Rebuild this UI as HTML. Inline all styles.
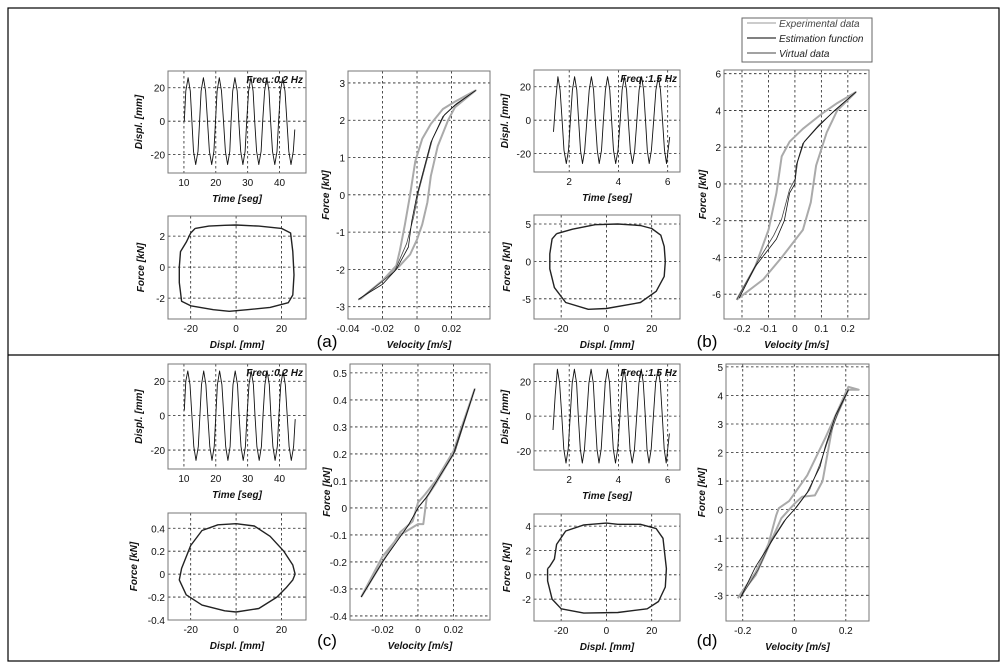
<!DOCTYPE html>
<html><head><meta charset="utf-8"><style>
body{margin:0;background:#fff}
svg{display:block;font-family:"Liberation Sans",sans-serif}
.tk{font-size:10px;fill:#111}
.ti{font-size:10px;font-style:italic;font-weight:bold;fill:#111}
</style></head><body>
<svg id="fig" width="1008" height="671" viewBox="0 0 1008 671">
<rect x="8" y="8" width="991" height="653" fill="none" stroke="#000" stroke-width="1.2"/>
<line x1="8" y1="355" x2="999" y2="355" stroke="#000" stroke-width="1.2"/>
<text x="327" y="347" font-size="17" text-anchor="middle">(a)</text>
<text x="707" y="347" font-size="17" text-anchor="middle">(b)</text>
<text x="327" y="646" font-size="17" text-anchor="middle">(c)</text>
<text x="707" y="646" font-size="17" text-anchor="middle">(d)</text>
<g>
<rect x="742" y="18" width="130" height="44" fill="#fff" stroke="#666"/>
<line x1="747" y1="23" x2="776" y2="23" stroke="#bbb" stroke-width="1.5"/>
<text x="779" y="27" font-size="10" font-style="italic" fill="#444">Experimental data</text>
<line x1="747" y1="38" x2="776" y2="38" stroke="#000"/>
<text x="779" y="42" font-size="10" font-style="italic" fill="#222">Estimation function</text>
<line x1="747" y1="53" x2="776" y2="53" stroke="#444"/>
<text x="779" y="57" font-size="10" font-style="italic" fill="#222">Virtual data</text>
</g>
</svg>
<script>
// ---- time series data (vertices: time, displacement) ----
const aTime=[10.1,10.6,11.3,12.0,12.5,13.0,13.7,14.4,14.9,15.4,16.1,16.8,17.4,18.0,18.7,19.4,19.9,20.4,21.1,21.8,22.4,23.0,23.7,24.4,24.8,25.3,26.0,26.7,27.2,27.8,28.5,29.2,29.7,30.3,31.0,31.7,32.2,32.8,33.5,34.2,34.7,35.3,36.0,36.7,37.2,37.8,38.5,39.2,39.7,40.3,41.0,41.7,42.3,42.9,43.6,44.3,44.8];
const aDisp=[0,18,26,18,0,-18,-26,-18,0,18,26,18,0,-18,-26,-18,0,18,26,18,0,-18,-26,-18,0,18,26,18,0,-18,-26,-18,0,18,26,18,0,-18,-26,-18,0,18,26,18,0,-18,-26,-18,0,18,26,18,0,-18,-26,-18,-5];
const bTime=[1.36,1.45,1.54,1.63,1.71,1.79,1.88,1.97,2.05,2.13,2.22,2.31,2.38,2.46,2.54,2.63,2.72,2.81,2.90,2.99,3.06,3.14,3.22,3.31,3.39,3.47,3.56,3.65,3.72,3.80,3.89,3.98,4.07,4.15,4.24,4.33,4.40,4.48,4.57,4.66,4.75,4.84,4.94,5.02,5.10,5.17,5.25,5.34,5.43,5.52,5.62,5.71,5.79,5.87,5.95,6.08];
const bDisp=[-7,12,26,18,0,-18,-26,-18,0,18,26,18,0,-18,-26,-18,0,18,26,18,0,-18,-26,-18,0,18,26,18,0,-18,-26,-18,0,18,26,18,0,-18,-26,-18,0,18,26,18,0,-18,-26,-18,0,18,26,18,0,-18,-26,-10];
const cTime=[10.1,10.6,11.2,11.9,12.5,13.1,13.8,14.5,15.0,15.5,16.2,16.9,17.5,18.1,18.8,19.5,20.0,20.5,21.2,21.9,22.5,23.1,23.8,24.5,24.9,25.4,26.1,26.8,27.3,27.9,28.6,29.3,29.8,30.4,31.1,31.8,32.3,32.9,33.6,34.3,34.8,35.4,36.1,36.8,37.3,37.9,38.6,39.3,39.8,40.4,41.1,41.8,42.4,43.0,43.7,44.4,44.9];
const cDisp=[3,20,26,18,0,-18,-26,-18,0,18,26,18,0,-18,-26,-18,0,18,26,18,0,-18,-26,-18,0,18,26,18,0,-18,-26,-18,0,18,26,18,0,-18,-26,-18,0,18,26,18,0,-18,-26,-18,0,18,26,18,0,-18,-26,-18,-2];
const dTime=[1.34,1.43,1.52,1.61,1.70,1.78,1.87,1.96,2.04,2.12,2.21,2.30,2.37,2.45,2.53,2.62,2.71,2.80,2.89,2.98,3.05,3.13,3.21,3.30,3.38,3.46,3.55,3.64,3.71,3.79,3.88,3.97,4.06,4.14,4.23,4.32,4.39,4.47,4.56,4.65,4.74,4.83,4.93,5.01,5.09,5.16,5.24,5.33,5.42,5.51,5.61,5.70,5.78,5.86,5.94,6.07];
const dDisp=[-8,12,27,19,0,-19,-27,-19,0,19,27,19,0,-19,-27,-19,0,19,27,19,0,-19,-27,-19,0,19,27,19,0,-19,-27,-19,0,19,27,19,0,-19,-27,-19,0,19,27,19,0,-19,-27,-19,0,19,27,19,0,-19,-27,-10];
// ---- loop data (displacement vs force) ----
const aLoopX=[-18,-12,-5,0,10,20,24,25,25.5,25,23,15,5,-3,-10,-20,-24,-25,-25,-24.5,-22,-20,-18];
const aLoopY=[2.5,2.65,2.7,2.72,2.65,2.5,2.2,1,-0.5,-1.8,-2.3,-2.6,-2.75,-2.85,-2.75,-2.5,-2.2,-1,0,1,1.6,2.2,2.5];
const bLoopX=[-22,-15,-5,5,15,20,24,25.5,26,25.5,22,15,0,-8,-18,-23,-25,-25,-24,-22];
const bLoopY=[3.7,4.3,4.9,5,4.8,4.4,3.5,2,0,-2,-4,-5.5,-6.3,-6.4,-5.5,-3.5,-1,1,3,3.7];
const cLoopX=[0,8,15,21,25,26,25,22,18,10,0,-5,-15,-22,-25,-24,-20,-15,-8,0];
const cLoopY=[0.44,0.42,0.33,0.2,0.08,0,-0.05,-0.12,-0.2,-0.3,-0.33,-0.32,-0.27,-0.18,-0.05,0.05,0.25,0.38,0.43,0.44];
const dLoopX=[-26,-25,-23,-22,-18,-10,0,5,15,22,25,26.5,26,23,18,5,-10,-20,-24,-26,-26];
const dLoopY=[0.5,0.7,1.3,2.5,3.6,4.1,4.25,4.15,4.15,3.8,3,0.5,-1,-2.2,-2.8,-3.1,-3.15,-2.8,-2,-0.5,0.5];
// ---- velocity vs force ----
const aExpV=[-0.033,-0.02,-0.012,-0.01,-0.007,-0.004,-0.001,0.003,0.008,0.015,0.022,0.034,0.022,0.018,0.012,0.008,0.006,0.003,0,-0.004,-0.01,-0.02,-0.033];
const aExpF=[-2.8,-2.3,-1.9,-1.5,-0.8,0,0.9,1.5,1.9,2.3,2.5,2.8,2.35,2,1.3,0.5,-0.2,-0.8,-1.2,-1.6,-1.9,-2.3,-2.8];
const aEstV=[-0.034,-0.02,-0.012,-0.005,-0.003,0,0.004,0.008,0.015,0.022,0.034];
const aEstF=[-2.8,-2.4,-2.0,-1.4,-0.7,0,0.7,1.4,2.1,2.4,2.8];
const aVirV=[-0.034,-0.021,-0.013,-0.006,-0.002,0.001,0.005,0.009,0.016,0.023,0.034];
const aVirF=[-2.82,-2.35,-2.05,-1.3,-0.6,0.1,0.8,1.5,2.15,2.45,2.8];
const bExpV=[-0.22,-0.15,-0.1,-0.07,-0.05,-0.02,0.03,0.1,0.16,0.23,0.16,0.12,0.08,0.06,0.03,-0.05,-0.12,-0.22];
const bExpF=[-6.3,-4.5,-2.5,-0.5,1.5,2.3,3,3.8,4.4,5,4,2.8,1,-1,-2.5,-4,-5.2,-6.3];
const bEstV=[-0.21,-0.15,-0.07,-0.04,-0.02,0,0.005,0.03,0.08,0.15,0.23];
const bEstF=[-6.2,-4.5,-3,-2,-0.5,0,1,2.2,3,4,5];
const bVirV=[-0.22,-0.14,-0.08,-0.05,-0.02,0.002,0.01,0.035,0.09,0.16,0.23];
const bVirF=[-6.3,-4.2,-2.8,-1.9,-0.3,0.3,1.2,2.3,3.2,4.1,5];
const cExpV=[-0.032,-0.02,-0.01,-0.003,0,0.004,0.01,0.02,0.032,0.02,0.01,0.005,0.003,0,-0.01,-0.02,-0.032];
const cExpF=[-0.33,-0.2,-0.09,-0.05,0.02,0.05,0.1,0.21,0.44,0.2,0.09,0.04,-0.06,-0.06,-0.1,-0.18,-0.33];
const cEstV=[-0.032,-0.02,-0.005,0,0.005,0.02,0.032];
const cEstF=[-0.33,-0.2,-0.06,0,0.04,0.2,0.44];
const cVirV=[-0.032,-0.019,-0.006,0.001,0.006,0.021,0.032];
const cVirF=[-0.33,-0.19,-0.07,0.01,0.05,0.21,0.44];
const dExpV=[-0.22,-0.15,-0.1,-0.07,-0.06,-0.02,0.05,0.12,0.18,0.21,0.25,0.21,0.15,0.11,0.08,0.03,0,-0.05,-0.1,-0.15,-0.22];
const dExpF=[-3.1,-2.2,-1.2,-0.2,0.05,0.3,1.2,2.5,3.7,4.3,4.2,4.2,3,1,0.5,0.45,0.2,-0.3,-1.3,-2.3,-3.1];
const dEstV=[-0.21,-0.15,-0.08,-0.03,0,0.05,0.1,0.12,0.16,0.21];
const dEstF=[-3.1,-2,-1,-0.3,0,0.6,1.5,2.2,3.3,4.2];
const dVirV=[-0.21,-0.14,-0.09,-0.04,0.01,0.06,0.1,0.13,0.17,0.21];
const dVirF=[-3.1,-2.1,-1.1,-0.4,0.1,0.7,1.6,2.4,3.4,4.2];
// ---- tick labels ----
const dispTicks=[-20,0,20];
const timeTicksA=[10,20,30,40];
const timeTicksB=[2,4,6];
const aLoopYT=[-2,0,2], bLoopYT=[-5,0,5], cLoopYT=[-0.4,-0.2,0,0.2,0.4], dLoopYT=[-2,0,2,4];
const loopXT=[-20,0,20];
const aVelXT=[-0.04,-0.02,0,0.02], aVelYT=[-3,-2,-1,0,1,2,3];
const bVelXT=[-0.2,-0.1,0,0.1,0.2], bVelYT=[-6,-4,-2,0,2,4,6];
const cVelXT=[-0.02,0,0.02], cVelYT=[-0.4,-0.3,-0.2,-0.1,0,0.1,0.2,0.3,0.4,0.5];
const dVelXT=[-0.2,0,0.2], dVelYT=[-3,-2,-1,0,1,2,3,4,5];

const NS='http://www.w3.org/2000/svg';
const svg=document.getElementById('fig');
function mk(tag,attrs,parent){const e=document.createElementNS(NS,tag);for(const k in attrs)e.setAttribute(k,attrs[k]);(parent||svg).appendChild(e);return e;}
function fmt(v){return String(v);}
function panel(name,box,xd,yd,xt,yt,xtitle,ytitle,series,freq,yoff){
  const [x0,y0,x1,y1]=box;
  const g=mk('g',{});
  
  
  const sx=v=>x0+(v-xd[0])/(xd[1]-xd[0])*(x1-x0);
  const sy=v=>y1-(v-yd[0])/(yd[1]-yd[0])*(y1-y0);
  mk('rect',{x:x0,y:y0,width:x1-x0,height:y1-y0,fill:'#fff',stroke:'none'},g);
  xt.forEach(v=>{const X=sx(v);
    if(X>x0+1&&X<x1-1){const l=mk('line',{x1:X,x2:X,y1:y0,y2:y1,stroke:'#222','stroke-width':0.8,'stroke-dasharray':'2.5,2.5'},g);
      }
    const t=mk('text',{x:X,y:y1+13,'text-anchor':'middle',class:'tk'},g);t.textContent=fmt(v);
    });
  yt.forEach(v=>{const Y=sy(v);
    if(Y>y0+1&&Y<y1-1){const l=mk('line',{x1:x0,x2:x1,y1:Y,y2:Y,stroke:'#222','stroke-width':0.8,'stroke-dasharray':'2.5,2.5'},g);
      }
    const t=mk('text',{x:x0-3,y:Y+4,'text-anchor':'end',class:'tk'},g);t.textContent=fmt(v);
    });
  series.forEach(s=>{
    const d=s.x.map((v,i)=>(i?'L':'M')+sx(v).toFixed(1)+','+sy(s.y[i]).toFixed(1)).join('');
    const p=mk('path',{d:d,fill:'none',stroke:s.c,'stroke-width':s.w,'stroke-linejoin':'round'},g);
    
    
  });
  mk('rect',{x:x0,y:y0,width:x1-x0,height:y1-y0,fill:'none',stroke:'#777','stroke-width':1},g);
  const xl=mk('text',{x:(x0+x1)/2,y:y1+29,'text-anchor':'middle',class:'ti'},g);xl.textContent=xtitle;
  
  const yx=x0-yoff, yc=(y0+y1)/2;
  const yl=mk('text',{x:yx,y:yc,'text-anchor':'middle',class:'ti',transform:`rotate(-90 ${yx} ${yc})`},g);yl.textContent=ytitle;
  
  if(freq){const f=mk('text',{x:x1-3,y:y0+12,'text-anchor':'end',class:'ti'},g);f.textContent=freq;
    }
}
const K='#111', G='#aaa', D='#444';
panel('displacement-time-a',[168,71,306,173],[5,48.3],[-31,30],timeTicksA,dispTicks,'Time [seg]','Displ. [mm]',[{x:aTime,y:aDisp,c:K,w:0.9,n:'displacement-line'}],'Freq.:0.2 Hz',26);
panel('force-displacement-a',[168,216,306,319],[-30,30.8],[-3.35,3.3],loopXT,aLoopYT,'Displ. [mm]','Force [kN]',[{x:aLoopX,y:aLoopY,c:'#222',w:1.4,n:'hysteresis-loop'}],null,24);
panel('force-velocity-a',[348,71,490,319],[-0.04,0.0423],[-3.33,3.32],aVelXT,aVelYT,'Velocity [m/s]','Force [kN]',[{x:aExpV,y:aExpF,c:G,w:2,n:'experimental-data'},{x:aVirV,y:aVirF,c:D,w:0.8,n:'virtual-data'},{x:aEstV,y:aEstF,c:K,w:0.8,n:'estimation-function'}],null,19);
panel('displacement-time-b',[534,70,680,172],[0.57,6.5],[-31,30],timeTicksB,dispTicks,'Time [seg]','Displ. [mm]',[{x:bTime,y:bDisp,c:K,w:0.9,n:'displacement-line'}],'Freq.:1.5 Hz',26);
panel('force-displacement-b',[534,215,680,319],[-32,32.5],[-7.7,6.2],loopXT,bLoopYT,'Displ. [mm]','Force [kN]',[{x:bLoopX,y:bLoopY,c:'#222',w:1.4,n:'hysteresis-loop'}],null,24);
panel('force-velocity-b',[724,70,869,319],[-0.268,0.28],[-7.35,6.2],bVelXT,bVelYT,'Velocity [m/s]','Force [kN]',[{x:bExpV,y:bExpF,c:G,w:2,n:'experimental-data'},{x:bVirV,y:bVirF,c:D,w:0.8,n:'virtual-data'},{x:bEstV,y:bEstF,c:K,w:0.8,n:'estimation-function'}],null,18);
panel('displacement-time-c',[168,364,306,469],[5,48.3],[-31,30],timeTicksA,dispTicks,'Time [seg]','Displ. [mm]',[{x:cTime,y:cDisp,c:K,w:0.9,n:'displacement-line'}],'Freq.:0.2 Hz',26);
panel('force-displacement-c',[168,513,306,620],[-30,30.8],[-0.4,0.533],loopXT,cLoopYT,'Displ. [mm]','Force [kN]',[{x:cLoopX,y:cLoopY,c:'#222',w:1.4,n:'hysteresis-loop'}],null,31);
panel('force-velocity-c',[350,364,490,620],[-0.0383,0.0406],[-0.415,0.533],cVelXT,cVelYT,'Velocity [m/s]','Force [kN]',[{x:cExpV,y:cExpF,c:G,w:2,n:'experimental-data'},{x:cVirV,y:cVirF,c:D,w:0.8,n:'virtual-data'},{x:cEstV,y:cEstF,c:K,w:0.8,n:'estimation-function'}],null,20);
panel('displacement-time-d',[534,364,680,470],[0.57,6.5],[-31,30],timeTicksB,dispTicks,'Time [seg]','Displ. [mm]',[{x:dTime,y:dDisp,c:K,w:0.9,n:'displacement-line'}],'Freq.:1.5 Hz',26);
panel('force-displacement-d',[534,514,680,621],[-32,32.5],[-3.8,5],loopXT,dLoopYT,'Displ. [mm]','Force [kN]',[{x:dLoopX,y:dLoopY,c:'#222',w:1.4,n:'hysteresis-loop'}],null,24);
panel('force-velocity-d',[726,364,869,621],[-0.265,0.29],[-3.9,5.1],dVelXT,dVelYT,'Velocity [m/s]','Force [kN]',[{x:dExpV,y:dExpF,c:G,w:2,n:'experimental-data'},{x:dVirV,y:dVirF,c:D,w:0.8,n:'virtual-data'},{x:dEstV,y:dEstF,c:K,w:0.8,n:'estimation-function'}],null,21);
</script>
</body></html>
